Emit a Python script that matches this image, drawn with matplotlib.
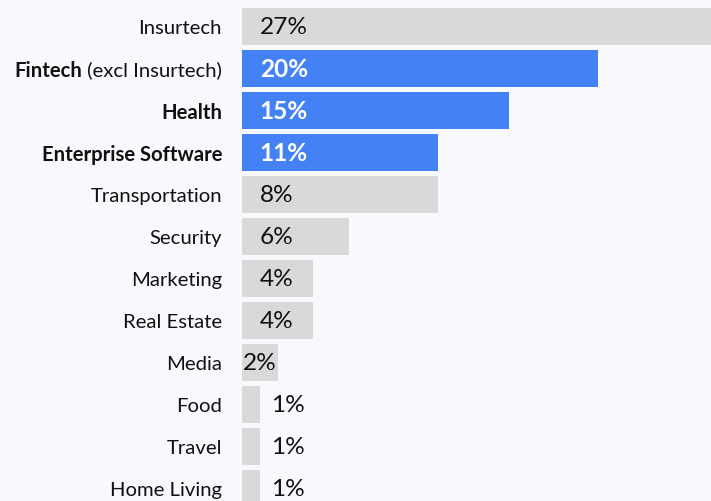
import matplotlib
matplotlib.use("Agg")
import matplotlib.pyplot as plt
import matplotlib.transforms as mtransforms

categories = ["Insurtech", "Fintech", "Health", "Enterprise Software", "Transportation",
              "Security", "Marketing", "Real Estate", "Media", "Food", "Travel", "Home Living"]
label_suffix = ["", " (excl Insurtech)", "", "", "", "", "", "", "", "", "", ""]
highlight = [False, True, True, True, False, False, False, False, False, False, False, False]
# bar lengths as drawn in the picture
bar_values = [27, 20, 15, 11, 11, 6, 4, 4, 2, 1, 1, 1]
# printed value labels
value_labels = ["27%", "20%", "15%", "11%", "8%", "6%", "4%", "4%", "2%", "1%", "1%", "1%"]

BG = "#F8F9FD"
BLUE = "#4381F5"
GREY = "#D9D9D9"
FONT = "Lato"
LABEL_SIZE = 14.6
VALUE_SIZE = 17.6

W, H = 711, 501
fig = plt.figure(figsize=(W / 100, H / 100), dpi=100, facecolor=BG)
left_px = 242
ax = fig.add_axes([left_px / W, 0, 1 - left_px / W, 1])
ax.set_facecolor(BG)

n = len(categories)
pitch = 42.0
first_center = 26.5
ylo = -first_center / pitch
yhi = (H - first_center) / pitch
ax.set_ylim(yhi, ylo)
px_per_unit = 17.8
ax.set_xlim(0, (W - left_px) / px_per_unit)

ypos = list(range(n))
colors = [BLUE if h else GREY for h in highlight]
ax.barh(ypos, bar_values, height=37 / pitch, color=colors, left=0, linewidth=0)

for s in ax.spines.values():
    s.set_visible(False)
ax.set_xticks([])
ax.set_yticks([])

renderer = fig.canvas.get_renderer()
label_offset = mtransforms.offset_copy(ax.transData, fig=fig, x=-20, y=0, units="dots")
for i, (cat, suf, hl) in enumerate(zip(categories, label_suffix, highlight)):
    weight = "bold" if hl else "normal"
    if suf:
        t = ax.text(0, i, suf, transform=label_offset, ha="right", va="center_baseline",
                    fontsize=LABEL_SIZE, family=FONT, color="#111111")
        w = t.get_window_extent(renderer).width
        tr = mtransforms.offset_copy(ax.transData, fig=fig, x=-20 - w, y=0, units="dots")
        ax.text(0, i, cat, transform=tr, ha="right", va="center_baseline",
                fontsize=LABEL_SIZE, family=FONT, fontweight=weight, color="#111111")
    else:
        ax.text(0, i, cat, transform=label_offset, ha="right", va="center_baseline",
                fontsize=LABEL_SIZE, family=FONT, fontweight=weight, color="#111111")

for i, (v, lab, hl) in enumerate(zip(bar_values, value_labels, highlight)):
    color = "white" if hl else "#111111"
    weight = "bold" if hl else "normal"
    if v >= 3:
        x, ha = 1.0, "left"
    elif v >= 2:
        x, ha = v / 2, "center"
    else:
        x, ha = v + 0.65, "left"
    ax.text(x, i + 0.03, lab, ha=ha, va="center", fontsize=VALUE_SIZE, family=FONT,
            fontweight=weight, color=color)

fig.savefig("out.png", dpi=100, facecolor=BG)
